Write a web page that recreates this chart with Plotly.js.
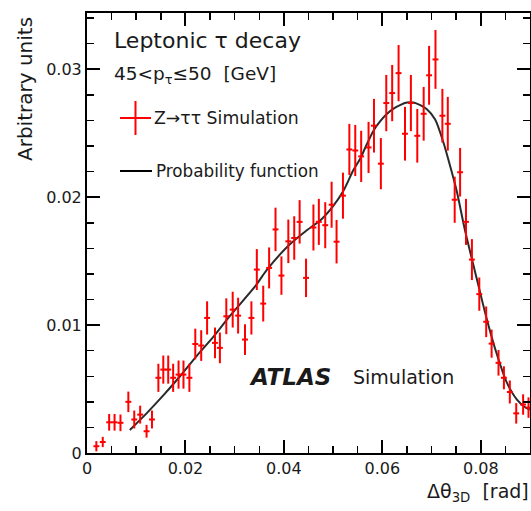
<!DOCTYPE html>
<html>
<head>
<meta charset="utf-8">
<script src="https://cdn.plot.ly/plotly-3.0.1.min.js"></script>
<style>html,body{margin:0;padding:0;background:#fff;}#chart{width:531px;height:511px;}</style>
</head>
<body>
<div id="chart"></div>
<script>
// Z->tautau simulation histogram points (delta theta 3D [rad], arbitrary units)
const simX = [0.0019,0.0032,0.0045,0.0056,0.0068,0.0084,0.0096,0.0108,0.0121,0.0132,
  0.0145,0.0155,0.0165,0.0175,0.0186,0.0196,0.0208,0.0220,0.0232,0.0244,
  0.0260,0.0270,0.0283,0.0296,0.0307,0.0321,0.0334,0.0345,0.0358,0.0370,
  0.0383,0.0395,0.0409,0.0421,0.0432,0.0445,0.0460,0.0471,0.0484,0.0497,
  0.0507,0.0520,0.0533,0.0545,0.0557,0.0572,0.0583,0.0597,0.0608,0.0620,
  0.0633,0.0646,0.0658,0.0671,0.0684,0.0695,0.0708,0.0722,0.0733,0.0747,
  0.0758,0.0770,0.0782,0.0797,0.0811,0.0822,0.0836,0.0847,0.0859,0.0872,
  0.0886,0.0897];
const simY = [0.00053,0.00086,0.0024,0.0024,0.00236,0.0040,0.00262,0.0030,0.0017,0.00262,
  0.00588,0.00652,0.00652,0.00588,0.00613,0.00613,0.00588,0.00852,0.0084,0.01056,
  0.00861,0.00822,0.01069,0.01121,0.01074,0.00887,0.01056,0.01434,0.01168,0.01447,
  0.01748,0.01387,0.01655,0.01681,0.01807,0.01369,0.01763,0.01807,0.01781,0.01941,
  0.01652,0.02012,0.02373,0.02365,0.02319,0.02389,0.02559,0.02262,0.02736,0.02814,
  0.0297,0.02496,0.02736,0.0248,0.02652,0.02953,0.03077,0.02637,0.02574,0.0198,
  0.02195,0.01807,0.01512,0.01242,0.01026,0.00855,0.00705,0.00588,0.00477,0.00310,
  0.00379,0.00355];
const simErr = [0.0004,0.0004,0.00065,0.00065,0.00065,0.0008,0.0007,0.0007,0.0005,0.0007,
  0.0011,0.0011,0.0011,0.0011,0.0011,0.0011,0.0011,0.0012,0.0012,0.0013,
  0.0012,0.0012,0.0014,0.0014,0.0014,0.0012,0.0013,0.0016,0.0014,0.0016,
  0.0017,0.0015,0.0017,0.0017,0.0017,0.0015,0.0018,0.0018,0.0018,0.0018,
  0.0017,0.0018,0.0020,0.0020,0.0020,0.0020,0.0021,0.0020,0.0022,0.0022,
  0.0022,0.0021,0.0022,0.0021,0.0021,0.0023,0.0023,0.0021,0.0021,0.0018,
  0.0019,0.0018,0.0016,0.0013,0.0012,0.0011,0.0010,0.0009,0.0009,0.0008,
  0.0008,0.0008];
const simXErr = 0.0006;

// Probability function curve
const fnX = [0.0087,0.0121,0.0155,0.0189,0.0223,0.0257,0.0290,0.0341,0.0365,0.0409,
  0.0443,0.0477,0.0500,0.0521,0.0541,0.0555,0.0568,0.0582,0.0595,0.0609,
  0.0622,0.0636,0.0650,0.0663,0.0677,0.0690,0.0707,0.0724,0.0738,0.0751,
  0.0768,0.0785,0.0792,0.0812,0.0832,0.0853,0.0873,0.0893,0.0900];
const fnY = [0.0018,0.0031,0.0045,0.0060,0.0076,0.0091,0.0107,0.0130,0.0143,0.0162,
  0.0173,0.0183,0.0193,0.0205,0.0221,0.0230,0.0241,0.0252,0.0259,0.0265,
  0.0269,0.0272,0.0274,0.0274,0.0272,0.0269,0.0261,0.0243,0.0224,0.0205,
  0.0174,0.0147,0.0136,0.0105,0.0078,0.0055,0.0042,0.0035,0.0034];

const xTicks = [0, 0.02, 0.04, 0.06, 0.08];
const yTicks = [0, 0.01, 0.02, 0.03];

const FONT = 'DejaVu Sans, Liberation Sans, Arial, sans-serif';
const TXT = '#1a1a1a';

const W = 531, H = 511;
const M = {l: 87, r: 1, t: 13, b: 58};
const PW = W - M.l - M.r, PH = H - M.t - M.b;
const px = v => (v - M.l) / PW;       // pixel x -> paper
const py = v => (H - M.b - v) / PH;   // pixel y -> paper

const traces = [
  {
    x: fnX, y: fnY, type: 'scatter', mode: 'lines',
    line: {color: '#2a2a2a', width: 2, shape: 'spline', smoothing: 0.8},
    name: 'Probability function', showlegend: false, hoverinfo: 'skip'
  },
  {
    x: simX, y: simY, type: 'scatter', mode: 'markers',
    marker: {color: 'rgb(255,0,0)', size: 2},
    error_y: {type: 'data', array: simErr, visible: true, color: 'rgb(255,0,0)', thickness: 2, width: 0},
    error_x: {type: 'constant', value: simXErr, visible: true, color: 'rgb(255,0,0)', thickness: 2, width: 0},
    name: 'Z→ττ Simulation', showlegend: false, hoverinfo: 'skip'
  }
];

const ann = (text, x, y, size, opts) => Object.assign({
  text: text, xref: 'paper', yref: 'paper', x: px(x), y: py(y),
  xanchor: 'left', yanchor: 'middle', showarrow: false,
  font: {family: FONT, size: size, color: TXT}
}, opts || {});

const layout = {
  width: W, height: H,
  margin: M,
  paper_bgcolor: '#fff', plot_bgcolor: '#fff',
  showlegend: false,
  xaxis: {
    range: [0, 0.09], tickvals: xTicks, ticktext: ['0','0.02','0.04','0.06','0.08'],
    ticks: 'inside', ticklen: 13, tickwidth: 2, tickcolor: '#000',
    minor: {dtick: 0.005, tick0: 0, ticks: 'inside', ticklen: 7, tickwidth: 1.5, tickcolor: '#000'},
    showline: true, linecolor: '#000', linewidth: 2, mirror: 'ticks',
    showgrid: false, zeroline: false,
    tickfont: {family: FONT, size: 16, color: TXT}
  },
  yaxis: {
    range: [0, 0.0344], tickvals: yTicks, ticktext: ['0','0.01','0.02','0.03'],
    ticks: 'inside', ticklen: 13, tickwidth: 2, tickcolor: '#000',
    minor: {dtick: 0.002, tick0: 0, ticks: 'inside', ticklen: 7, tickwidth: 1.5, tickcolor: '#000'},
    showline: true, linecolor: '#000', linewidth: 2, mirror: 'ticks',
    showgrid: false, zeroline: false,
    tickfont: {family: FONT, size: 16, color: TXT}
  },
  shapes: [
    {type: 'line', xref: 'paper', yref: 'paper', x0: px(120), x1: px(151), y0: py(118), y1: py(118), line: {color: 'rgb(255,0,0)', width: 2}},
    {type: 'line', xref: 'paper', yref: 'paper', x0: px(135.5), x1: px(135.5), y0: py(101), y1: py(135), line: {color: 'rgb(255,0,0)', width: 2}},
    {type: 'line', xref: 'paper', yref: 'paper', x0: px(120), x1: px(152), y0: py(171), y1: py(171), line: {color: '#000', width: 2}}
  ],
  annotations: [
    ann('Leptonic τ decay', 112, 41, 22),
    ann('45&lt;p<sub>τ</sub>≤50\u00a0\u00a0[GeV]', 112, 75, 18.5),
    ann('Z→ττ Simulation', 152, 118, 17.3),
    ann('Probability function', 154, 171, 16.8),
    ann('<b><i>ATLAS</i></b>', 247, 377, 23),
    ann('Simulation', 351, 377, 19),
    ann('Arbitrary units', 25, 89, 20, {xanchor: 'center', yanchor: 'middle', textangle: -90}),
    ann('Δθ<sub>3D</sub>\u00a0\u00a0[rad]', 531, 493, 19, {xanchor: 'right'})
  ]
};

Plotly.newPlot('chart', traces, layout, {staticPlot: true, displayModeBar: false});
</script>
</body>
</html>
